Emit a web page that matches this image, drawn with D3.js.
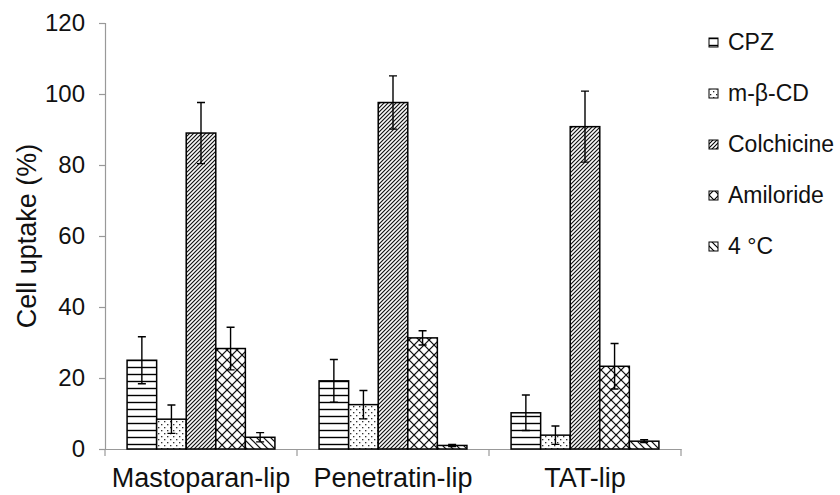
<!DOCTYPE html>
<html>
<head>
<meta charset="utf-8">
<script src="https://cdn.jsdelivr.net/npm/d3@7"></script>
<style>
  body { margin: 0; background: #fff; }
  svg { display: block; font-family: Arial, "Liberation Sans", sans-serif; }
</style>
</head>
<body>
<svg width="840" height="495"></svg>
<script>
const categories = ['Mastoparan-lip', 'Penetratin-lip', 'TAT-lip'];
const series = ['CPZ', 'm-β-CD', 'Colchicine', 'Amiloride', '4 °C'];
// one array per series, in category order
const cpz = [25, 19.2, 10.2];
const mbcd = [8.4, 12.5, 3.9];
const colchicine = [89, 97.6, 90.8];
const amiloride = [28.3, 31.3, 23.3];
const cold = [3.3, 1.0, 2.2];
const cpzErr = [6.6, 6, 5];
const mbcdErr = [4, 4, 2.6];
const colchicineErr = [8.6, 7.5, 10];
const amilorideErr = [6, 2, 6.4];
const coldErr = [1.3, 0.3, 0.4];
const yTicks = [0, 20, 40, 60, 80, 100, 120];

const values = [cpz, mbcd, colchicine, amiloride, cold];
const errors = [cpzErr, mbcdErr, colchicineErr, amilorideErr, coldErr];
const patternIds = ['p-hor', 'p-dot', 'p-diag', 'p-cross', 'p-back'];

const svg = d3.select('svg');
const defs = svg.append('defs');

// fill patterns
function pattern(id, w, h, draw) {
  const pat = defs.append('pattern')
    .attr('id', id)
    .attr('patternUnits', 'userSpaceOnUse')
    .attr('width', w).attr('height', h);
  pat.append('rect').attr('width', w).attr('height', h).attr('fill', '#fff');
  draw(pat);
}
pattern('p-hor', 8, 7, p => p.append('path')
  .attr('d', 'M0 3.5 H8').attr('stroke', '#000').attr('stroke-width', 1.4));
pattern('p-dot', 6, 6, p => {
  p.append('rect').attr('x', 1).attr('y', 1).attr('width', 1.3).attr('height', 1.3).attr('fill', '#222');
  p.append('rect').attr('x', 4).attr('y', 4).attr('width', 1.3).attr('height', 1.3).attr('fill', '#222');
});
pattern('p-diag', 4, 4, p => p.append('path')
  .attr('d', 'M-1 5 L5 -1 M-1 1 L1 -1 M3 5 L5 3').attr('stroke', '#000').attr('stroke-width', 1.1));
pattern('p-cross', 10, 10, p => p.append('path')
  .attr('d', 'M0 0 L10 10 M10 0 L0 10').attr('stroke', '#000').attr('stroke-width', 1.2));
pattern('p-back', 7, 7, p => p.append('path')
  .attr('d', 'M-1 -1 L8 8 M-1 6 L1 8 M6 -1 L8 1').attr('stroke', '#000').attr('stroke-width', 1.2));

const x0 = d3.scaleBand().domain(categories).range([105, 681])
  .paddingInner(0.23).paddingOuter(0.115);
const x1 = d3.scaleBand().domain(d3.range(series.length)).range([0, x0.bandwidth()]);
const y = d3.scaleLinear().domain([0, 120]).range([449, 23]);

// axes
const yAxis = svg.append('g').attr('transform', 'translate(105,0)')
  .call(d3.axisLeft(y).tickValues(yTicks).tickSize(6).tickPadding(14));
const xAxis = svg.append('g').attr('transform', 'translate(0,449)')
  .call(d3.axisBottom(x0).tickSize(0).tickPadding(22));
[yAxis, xAxis].forEach(a => {
  a.select('.domain').attr('stroke', '#999').attr('stroke-width', 1.2);
  a.selectAll('.tick line').attr('stroke', '#999').attr('stroke-width', 1.2);
  a.selectAll('text').attr('fill', '#111');
});
yAxis.selectAll('text').attr('font-size', 24);
xAxis.selectAll('text').attr('font-size', 27).attr('dy', '0.6em');
// category separator ticks
const step = x0.step();
xAxis.selectAll('.sep').data(d3.range(categories.length + 1)).join('line')
  .attr('x1', i => x0(categories[0]) - x0.paddingOuter() * step + i * step)
  .attr('x2', i => x0(categories[0]) - x0.paddingOuter() * step + i * step)
  .attr('y1', 0).attr('y2', 7)
  .attr('stroke', '#999').attr('stroke-width', 1.2);

svg.append('text')
  .attr('transform', 'translate(36,236) rotate(-90)')
  .attr('text-anchor', 'middle')
  .attr('font-size', 27).attr('fill', '#111')
  .text('Cell uptake (%)');

// bars
const groups = svg.append('g').selectAll('g').data(categories).join('g')
  .attr('transform', c => `translate(${x0(c)},0)`);
groups.each(function(c, ci) {
  const g = d3.select(this);
  series.forEach((s, si) => {
    const v = values[si][ci];
    const e = errors[si][ci];
    g.append('rect')
      .attr('x', x1(si)).attr('y', y(v))
      .attr('width', x1.bandwidth()).attr('height', y(0) - y(v))
      .attr('fill', `url(#${patternIds[si]})`)
      .attr('stroke', '#000').attr('stroke-width', 1.5);
    const cx = x1(si) + x1.bandwidth() / 2;
    g.append('path')
      .attr('d', `M${cx} ${y(v + e)} V${y(Math.max(0, v - e))}` +
        ` M${cx - 4} ${y(v + e)} H${cx + 4} M${cx - 4} ${y(Math.max(0, v - e))} H${cx + 4}`)
      .attr('stroke', '#000').attr('stroke-width', 1.4).attr('fill', 'none');
  });
});

// legend
const legend = svg.append('g').selectAll('g').data(series).join('g')
  .attr('transform', (d, i) => `translate(709,${42 + i * 51})`);
legend.append('rect')
  .attr('x', 0).attr('y', -4).attr('width', 9).attr('height', 9)
  .attr('fill', (d, i) => `url(#${patternIds[i]})`)
  .attr('stroke', '#000').attr('stroke-width', 1);
legend.append('text')
  .attr('x', 19).attr('dy', '0.35em')
  .attr('font-size', 23).attr('fill', '#111')
  .text(d => d);
</script>
</body>
</html>
